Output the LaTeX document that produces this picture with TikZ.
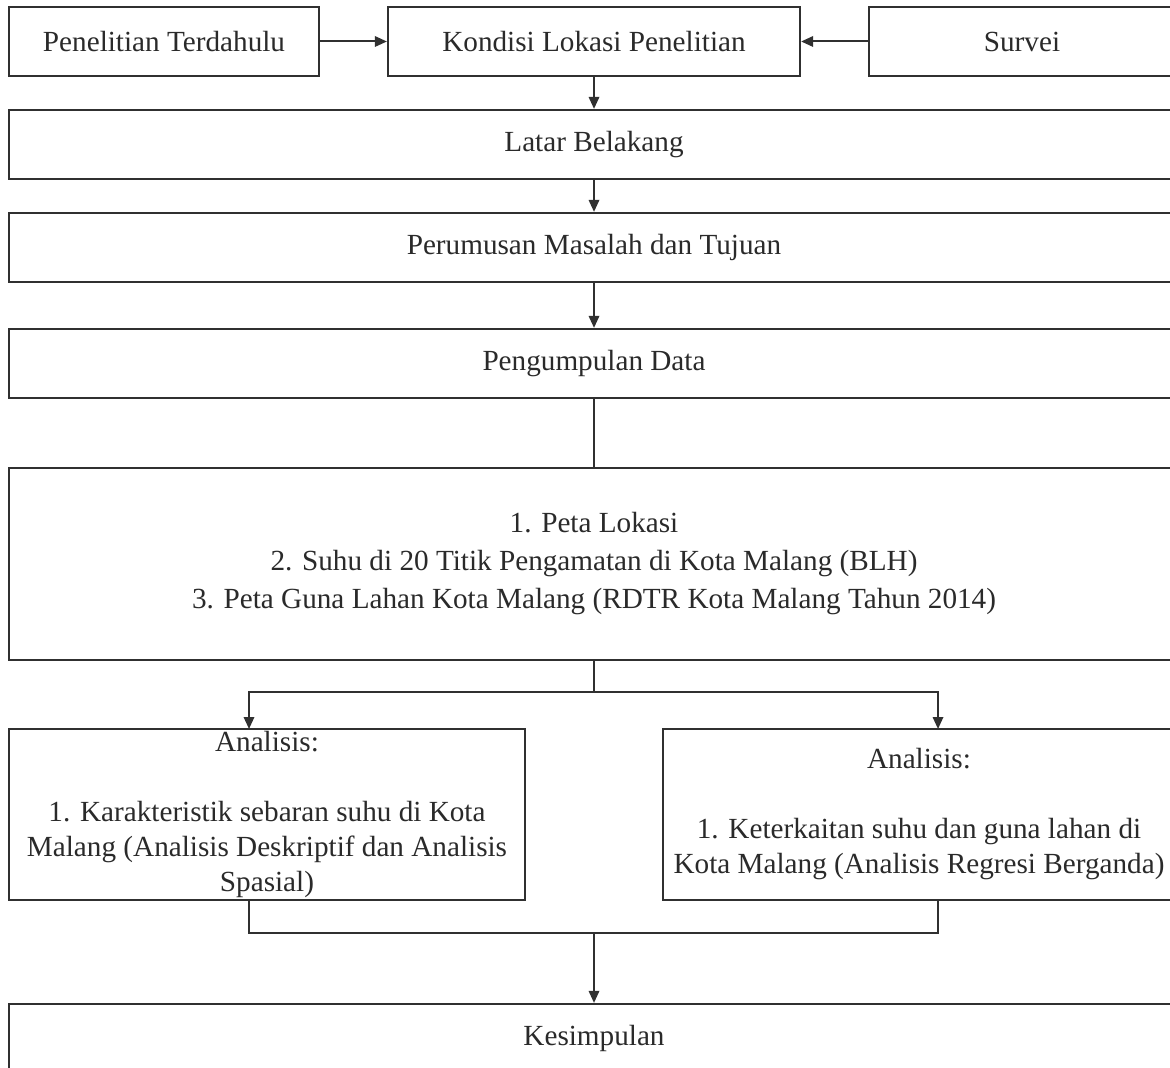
\documentclass[tikz,border=0pt]{standalone}
\usepackage{fontspec}
\setmainfont{Liberation Serif}
\usetikzlibrary{arrows.meta}
\definecolor{ln}{HTML}{303030}
\definecolor{tx}{HTML}{2A2A2A}
\begin{document}
\begin{tikzpicture}[x=0.5pt,y=-0.5pt,
  box/.style={draw=ln,line width=1.1pt,rectangle,inner sep=0pt,text=tx,align=center,
    font=\fontsize{14.6}{17.5}\selectfont},
  conn/.style={draw=ln,line width=1pt},
  arr/.style={conn,-{Triangle[length=6pt,width=5.2pt]}}]
\path[use as bounding box,clip] (0,0) rectangle (1170,1068);
\fill[white] (0,0) rectangle (1170,1068);
% top row
\node[box,minimum width=155pt,minimum height=34.5pt] (pt) at (164,41.5) {Penelitian Terdahulu};
\node[box,minimum width=206pt,minimum height=34.5pt] (kon) at (594,41.5) {Kondisi Lokasi Penelitian};
\node[box,minimum width=153pt,minimum height=34.5pt] (sur) at (1022,41.5) {Survei};
% main column
\node[box,minimum width=585pt,minimum height=34.5pt] (lat) at (594,144.5) {Latar Belakang};
\node[box,minimum width=585pt,minimum height=34.5pt] (per) at (594,247.5) {Perumusan Masalah dan Tujuan};
\node[box,minimum width=585pt,minimum height=34.5pt] (pen) at (594,363.5) {Pengumpulan Data};
\node[box,minimum width=585pt,minimum height=96pt,
  font=\fontsize{14.6}{19}\selectfont] (dat) at (594,564)
  {1. Peta Lokasi\\2. Suhu di 20 Titik Pengamatan di Kota Malang (BLH)\\3. Peta Guna Lahan Kota Malang (RDTR Kota Malang Tahun 2014)};
% analysis boxes
\node[box,minimum width=258pt,minimum height=85.5pt] (anl) at (267,814.5)
  {Analisis:\\[17.5pt]1. Karakteristik sebaran suhu di Kota\\Malang (Analisis Deskriptif dan Analisis\\Spasial)};
\node[box,minimum width=256pt,minimum height=85.5pt] (anr) at (919,814.5)
  {Analisis:\\[17.5pt]1. Keterkaitan suhu dan guna lahan di\\Kota Malang (Analisis Regresi Berganda)};
\node[box,minimum width=585pt,minimum height=34pt] (kes) at (594,1038) {Kesimpulan};
% connector points
\coordinate (jm) at (594,692);
\coordinate (aLt) at (249,729);
\coordinate (aRt) at (938,729);
\coordinate (aLb) at (249,900);
\coordinate (aRb) at (938,900);
\coordinate (jb) at (594,933);
% connectors
\draw[arr] (pt.east) -- (kon.west);
\draw[arr] (sur.west) -- (kon.east);
\draw[arr] (kon.south) -- (lat.north);
\draw[arr] (lat.south) -- (per.north);
\draw[arr] (per.south) -- (pen.north);
\draw[conn] (pen.south) -- (dat.north);
\draw[conn] (dat.south) -- (jm);
\draw[arr] (jm) -| (aLt);
\draw[arr] (jm) -| (aRt);
\draw[conn] (aLb) |- (jb) -| (aRb);
\draw[arr] (jb) -- (kes.north);
\end{tikzpicture}
\end{document}
